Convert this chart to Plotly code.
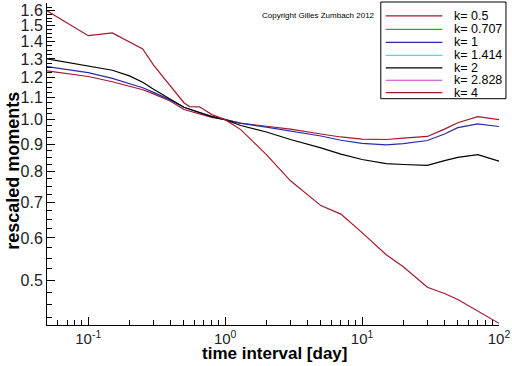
import plotly.graph_objects as go
import numpy as np

# ---- data ----
time_days = [0.05, 0.1, 0.15, 0.2, 0.25, 0.3, 0.4, 0.5, 0.55, 0.65, 0.8, 1, 1.3, 2, 3, 5, 7, 10, 15, 20, 30, 40, 50, 70, 100]
k_0_5 = [1.235, 1.205, 1.178, 1.155, 1.138, 1.118, 1.083, 1.045, 1.038, 1.025, 1.01, 1.0, 0.985, 0.972, 0.96, 0.94, 0.928, 0.919, 0.918, 0.923, 0.93, 0.96, 0.987, 1.013, 1.0]
k_1 = [1.257, 1.225, 1.195, 1.17, 1.148, 1.125, 1.088, 1.055, 1.046, 1.03, 1.013, 1.0, 0.984, 0.968, 0.953, 0.932, 0.915, 0.903, 0.897, 0.902, 0.914, 0.94, 0.966, 0.982, 0.971]
k_2 = [1.30, 1.262, 1.238, 1.208, 1.175, 1.14, 1.09, 1.055, 1.046, 1.03, 1.013, 1.0, 0.975, 0.948, 0.918, 0.885, 0.862, 0.842, 0.827, 0.824, 0.821, 0.838, 0.85, 0.86, 0.836]
k_4 = [1.60, 1.437, 1.454, 1.396, 1.357, 1.266, 1.158, 1.076, 1.058, 1.057, 1.022, 1.0, 0.958, 0.86, 0.768, 0.69, 0.665, 0.614, 0.558, 0.53, 0.485, 0.472, 0.46, 0.438, 0.415]

legend_labels = ["k= 0.5", "k= 0.707", "k= 1", "k= 1.414", "k= 2", "k= 2.828", "k= 4"]
legend_colors = ["#a3182c", "#22b022", "#2a2aa8", "#40e0e0", "#000000", "#c23cc2", "#a3182c"]

x_ticks = [0.1, 1, 10, 100]
x_ticktext = ["10<sup>-1</sup>", "10<sup>0</sup>", "10<sup>1</sup>", "10<sup>2</sup>"]
y_ticks = [0.5, 0.6, 0.7, 0.8, 0.9, 1.0, 1.1, 1.2, 1.3, 1.4, 1.5, 1.6]
y_ticktext = ["0.5", "0.6", "0.7", "0.8", "0.9", "1.0", "1.1", "1.2", "1.3", "1.4", "1.5", "1.6"]

# ---- layout geometry ----
W, H = 512, 366
ML, MR, MT, MB = 47, 10, 2, 41
PW, PH = W - ML - MR, H - MT - MB

def px(xp):
    return (xp - ML) / PW

def py(yp):
    return (H - MB - yp) / PH

fig = go.Figure()
series = [(k_0_5, legend_colors[0]), (k_1, legend_colors[2]), (k_2, legend_colors[4]), (k_4, legend_colors[6])]
for vals, col in series:
    fig.add_trace(go.Scatter(x=time_days, y=vals, mode="lines",
                             line=dict(color=col, width=1.2), showlegend=False))

minor_x = [v * m for v in [0.01, 0.1, 1, 10] for m in range(2, 10) if 0.05 <= v * m <= 100]
minor_y = [round(0.4 + 0.025 * i, 3) for i in range(0, 50) if 0.4 + 0.025 * i <= 1.65]

fig.update_xaxes(type="log", range=[np.log10(0.05), 2],
                 tickvals=x_ticks, ticktext=x_ticktext,
                 ticks="inside", ticklen=8, tickcolor="black",
                 showline=True, linecolor="black", linewidth=1,
                 showgrid=False, zeroline=False, ticklabeloverflow="allow",
                 tickfont=dict(family="Liberation Sans", size=15, color="#222"),
                 minor=dict(tickvals=minor_x, ticks="inside", ticklen=5, tickcolor="black", showgrid=False))
fig.update_yaxes(type="log", range=[np.log10(0.412), np.log10(1.655)],
                 tickvals=y_ticks, ticktext=y_ticktext,
                 ticks="inside", ticklen=8, tickcolor="black",
                 showline=True, linecolor="black", linewidth=1,
                 showgrid=False, zeroline=False, ticklabeloverflow="allow",
                 tickfont=dict(family="Liberation Sans", size=16, color="#222"),
                 minor=dict(tickvals=minor_y, ticks="inside", ticklen=5, tickcolor="black", showgrid=False))

shapes = []
annotations = []
# legend box
shapes.append(dict(type="rect", xref="paper", yref="paper",
                   x0=px(383), x1=px(509), y0=py(98), y1=py(1),
                   line=dict(color="black", width=1), fillcolor="white", layer="above"))
legend_y = [15, 28.5, 41.5, 54.5, 67, 79.5, 92]
for lab, col, yy in zip(legend_labels, legend_colors, legend_y):
    shapes.append(dict(type="line", xref="paper", yref="paper",
                       x0=px(388), x1=px(445), y0=py(yy), y1=py(yy),
                       line=dict(color=col, width=1.2), layer="above"))
    annotations.append(dict(xref="paper", yref="paper", x=px(455), y=py(yy),
                            text=lab, showarrow=False, xanchor="left", yanchor="middle",
                            font=dict(family="Liberation Sans", size=12.5, color="black")))

annotations.append(dict(xref="paper", yref="paper", x=px(320), y=py(15),
                        text="Copyright Gilles Zumbach 2012", showarrow=False,
                        xanchor="center", yanchor="middle",
                        font=dict(family="Liberation Sans", size=8, color="black")))
annotations.append(dict(xref="paper", yref="paper", x=px(13), y=py(170),
                        text="<b>rescaled moments</b>", showarrow=False, textangle=-90,
                        xanchor="center", yanchor="middle",
                        font=dict(family="Liberation Sans", size=18, color="black")))
annotations.append(dict(xref="paper", yref="paper", x=px(277), y=py(354),
                        text="<b>time interval [day]</b>", showarrow=False,
                        xanchor="center", yanchor="middle",
                        font=dict(family="Liberation Sans", size=17, color="black")))

fig.update_layout(width=W, height=H, margin=dict(l=ML, r=MR, t=MT, b=MB),
                  plot_bgcolor="white", paper_bgcolor="white",
                  showlegend=False, shapes=shapes, annotations=annotations)

fig.write_html("out.html", config={"displayModeBar": False},
               post_script="document.body.style.margin='0';document.body.style.overflow='hidden';")
